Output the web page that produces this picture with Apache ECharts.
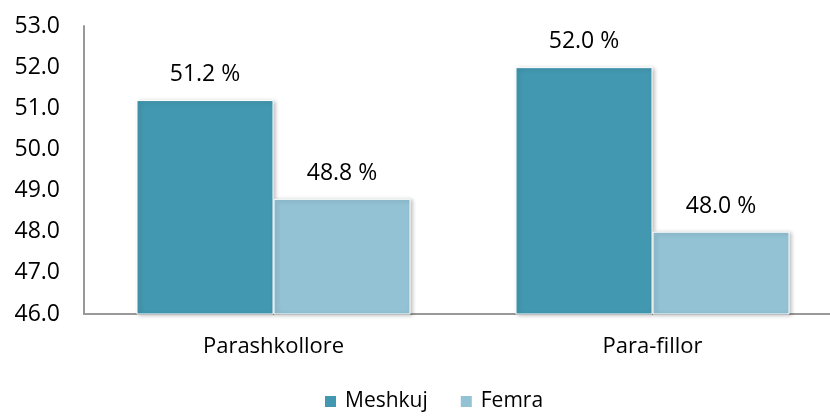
<!DOCTYPE html>
<html>
<head>
<meta charset="utf-8">
<script src="https://cdn.jsdelivr.net/npm/echarts@6/dist/echarts.min.js"></script>
<style>
  html, body { margin: 0; padding: 0; background: #fff; }
  #chart { width: 830px; height: 416px; }
</style>
</head>
<body>
<div id="chart"></div>
<script>
const categories = ['Parashkollore', 'Para-fillor']
const meshkuj = [51.2, 52.0]
const femra = [48.8, 48.0]
const seriesNames = ['Meshkuj', 'Femra']

const font = '"Open Sans", "Noto Sans", sans-serif'
const chart = echarts.init(document.getElementById('chart'))

// shared bar style: white border + soft shadow like the original
const barStyle = (color) => ({
  color: color,
  borderColor: '#fff',
  borderWidth: 1,
  shadowColor: 'rgba(0, 0, 0, 0.25)',
  shadowBlur: 4,
  shadowOffsetX: 2,
  shadowOffsetY: 1
})

const barLabel = {
  show: true,
  position: 'top',
  distance: 14,
  color: '#000',
  fontSize: 23,
  fontFamily: font,
  formatter: (p) => p.value.toFixed(1) + ' %'
}

chart.setOption({
  animation: false,
  // plot area runs a bit past the right edge, as in the original
  grid: { left: 84, width: 758, top: 26, bottom: 102, outerBoundsMode: 'none' },
  legend: {
    top: 391,
    left: 323,
    padding: 0,
    icon: 'rect',
    itemWidth: 13,
    itemHeight: 13,
    itemGap: 31,
    textStyle: { fontSize: 21, fontFamily: font, color: '#000', padding: [0, 0, 0, 3] },
    data: seriesNames
  },
  xAxis: {
    type: 'category',
    data: categories,
    axisTick: { show: false },
    axisLine: { lineStyle: { color: '#999', width: 2 } },
    axisLabel: { color: '#000', fontSize: 22, fontFamily: font, margin: 22 }
  },
  yAxis: {
    type: 'value',
    min: 46,
    max: 53,
    interval: 1,
    splitLine: { show: false },
    axisTick: { show: false },
    axisLine: { show: true, lineStyle: { color: '#999', width: 2 } },
    axisLabel: {
      color: '#000',
      fontSize: 23,
      fontFamily: font,
      margin: 24,
      formatter: (v) => v.toFixed(1)
    }
  },
  series: [
    {
      name: seriesNames[0],
      type: 'bar',
      data: meshkuj,
      barGap: '0%',
      barCategoryGap: '27.7%',
      itemStyle: barStyle('#4298B0'),
      label: barLabel
    },
    {
      name: seriesNames[1],
      type: 'bar',
      data: femra,
      barGap: '0%',
      barCategoryGap: '27.7%',
      itemStyle: barStyle('#92C2D4'),
      label: barLabel
    }
  ]
})
</script>
</body>
</html>
